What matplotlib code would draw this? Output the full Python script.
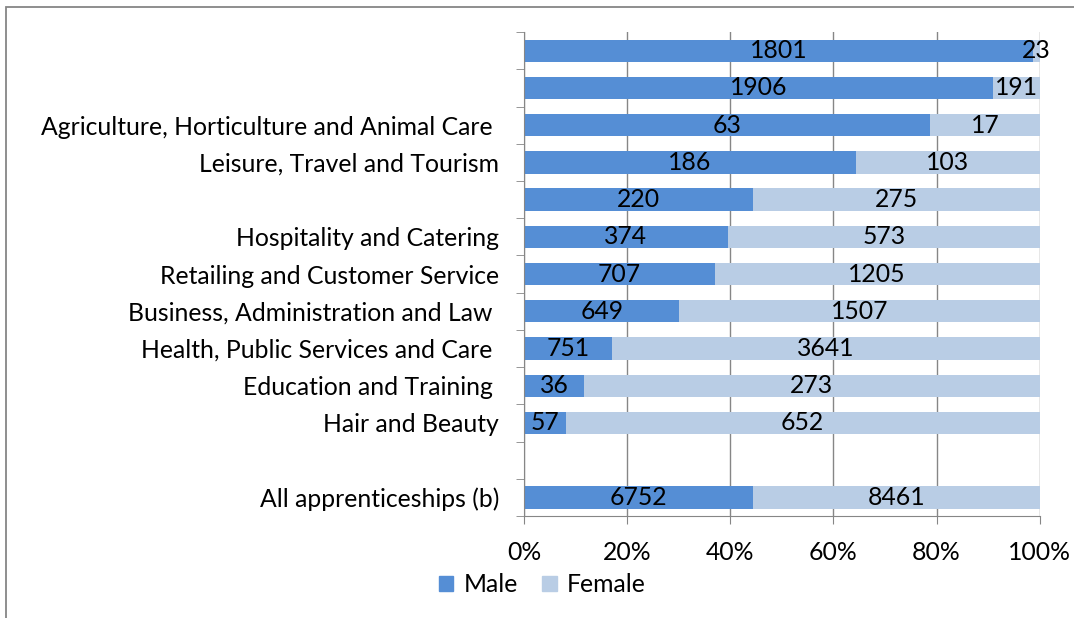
import matplotlib.pyplot as plt
import numpy as np
from matplotlib.patches import Rectangle

plt.rcParams['font.family'] = ['Lato', 'DejaVu Sans']

# Data (top to bottom); None marks the empty spacer row
categories = ["", "", "Agriculture, Horticulture and Animal Care ",
              "Leisure, Travel and Tourism", "",
              "Hospitality and Catering", "Retailing and Customer Service",
              "Business, Administration and Law ",
              "Health, Public Services and Care ",
              "Education and Training ", "Hair and Beauty", "",
              "All apprenticeships (b)"]
male = [1801, 1906, 63, 186, 220, 374, 707, 649, 751, 36, 57, None, 6752]
female = [23, 191, 17, 103, 275, 573, 1205, 1507, 3641, 273, 652, None, 8461]

male_color = "#558ED5"
female_color = "#B9CDE5"
fs = 17.8

fig = plt.figure(figsize=(10.74, 6.18), dpi=100)
ax = fig.add_axes([0.488, 0.165, 0.48, 0.783])

n = len(categories)
ypos = np.arange(n)
for y, m, f in zip(ypos, male, female):
    if m is None:
        continue
    tot = m + f
    pm, pf = m / tot, f / tot
    ax.barh(y, pm, height=0.6, color=male_color, zorder=2)
    ax.barh(y, pf, left=pm, height=0.6, color=female_color, zorder=2)
    ax.text(pm / 2, y, str(m), ha="center", va="center", fontsize=fs, zorder=3)
    ax.text(pm + pf / 2, y, str(f), ha="center", va="center", fontsize=fs, zorder=3)

ax.set_ylim(n - 0.5, -0.5)
ax.set_xlim(0, 1)
ax.set_yticks(ypos)
ax.set_yticklabels(categories, fontsize=fs)
ax.set_yticks(np.arange(n + 1) - 0.5, minor=True)
ax.tick_params(axis="y", which="major", length=0, pad=18)
ax.tick_params(axis="y", which="minor", length=6, color="#868686", direction="out")

xt = np.linspace(0, 1, 6)
ax.set_xticks(xt)
ax.set_xticklabels([f"{int(v*100)}%" for v in xt], fontsize=fs)
ax.tick_params(axis="x", length=6, color="#868686", pad=12)
ax.grid(axis="x", color="#868686", linewidth=1, zorder=0)
ax.set_axisbelow(True)

for s in ["top", "right"]:
    ax.spines[s].set_visible(False)
for s in ["left", "bottom"]:
    ax.spines[s].set_color("#868686")

# legend
handles = [Rectangle((0, 0), 1, 1, color=male_color),
           Rectangle((0, 0), 1, 1, color=female_color)]
fig.legend(handles, ["Male", "Female"], loc="center", bbox_to_anchor=(0.505, 0.054),
           ncol=2, frameon=False, fontsize=fs, handlelength=0.6, handleheight=0.6,
           handletextpad=0.4, columnspacing=1.0)

# outer chart border (cut off at right/bottom)
fig.patches.append(Rectangle((6 / 1074, -0.1), 1.2, 1 - 7 / 618 + 0.1,
                             transform=fig.transFigure, fill=False,
                             edgecolor="#868686", linewidth=1.3))

fig.savefig("out.png", dpi=100)
